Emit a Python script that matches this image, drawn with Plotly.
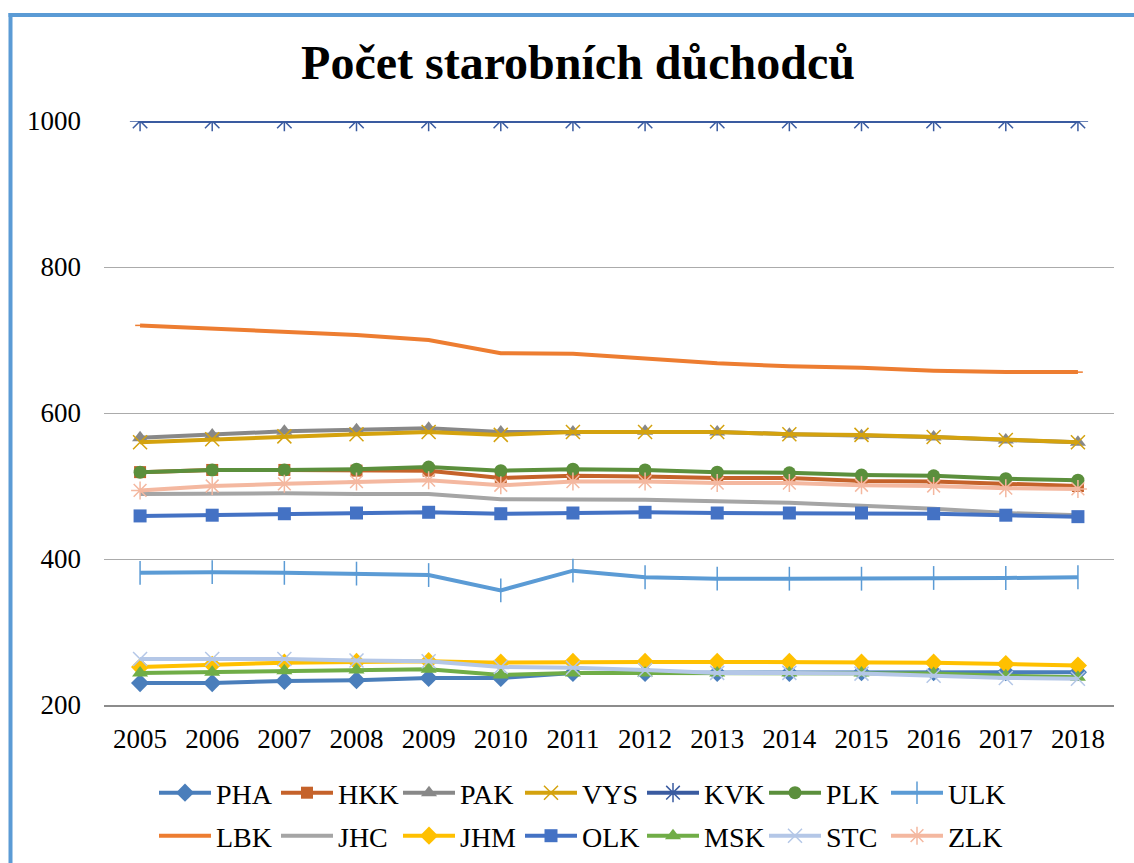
import plotly.graph_objects as go

years = [str(y) for y in range(2005, 2019)]

PHA = [230, 230, 233, 234, 237, 237, 244, 244, 244, 244, 245, 245, 245, 245]
HKK = [519, 522, 522, 521, 521, 511, 514, 513, 511, 511, 507, 506, 503, 500]
PAK = [566, 570, 575, 577, 579, 574, 574, 575, 574, 571, 569, 567, 563, 560]
VYS = [560, 564, 568, 571, 574, 570, 574, 574, 574, 571, 570, 567, 563, 560]
KVK = [1000] * 14
PLK = [519, 522, 522, 523, 526, 521, 523, 522, 519, 518, 515, 514, 510, 508]
ULK = [381, 382, 381, 380, 378, 357, 384, 375, 373, 373, 373, 374, 374, 375]
LBK = [720, 716, 712, 707, 700, 682, 681, 675, 668, 664, 662, 658, 656, 656]
JHC = [489, 490, 490, 489, 489, 482, 482, 481, 479, 477, 473, 469, 463, 460]
JHM = [252, 255, 258, 259, 260, 258, 259, 259, 259, 259, 258, 258, 256, 254]
OLK = [459, 460, 462, 463, 464, 462, 463, 464, 463, 463, 463, 462, 460, 458]
MSK = [244, 245, 247, 248, 249, 241, 244, 244, 244, 244, 244, 243, 240, 238]
STC = [263, 263, 263, 261, 260, 252, 251, 248, 244, 244, 243, 240, 237, 236]
ZLK = [494, 500, 503, 506, 508, 501, 506, 506, 504, 504, 501, 500, 497, 496]

series = [
    ("PHA", PHA, "#4A7EBB", "diamond", 14, "legend"),
    ("HKK", HKK, "#C5622A", "square", 12, "legend"),
    ("PAK", PAK, "#888888", "triangle-up", 14, "legend"),
    ("VYS", VYS, "#D4A20E", "x-thin", 14, "legend"),
    ("KVK", KVK, "#3A5BA0", "asterisk", 17, "legend"),
    ("PLK", PLK, "#5B8F3C", "circle", 13, "legend"),
    ("ULK", ULK, "#5B9BD5", "line-ns", 17, "legend"),
    ("LBK", LBK, "#ED7D31", "line-ew", 7, "legend2"),
    ("JHC", JHC, "#A5A5A5", None, 0, "legend2"),
    ("JHM", JHM, "#FFC000", "diamond", 14, "legend2"),
    ("OLK", OLK, "#4472C4", "square", 13, "legend2"),
    ("MSK", MSK, "#70AD47", "triangle-up", 14, "legend2"),
    ("STC", STC, "#B4C7E7", "x-thin", 14, "legend2"),
    ("ZLK", ZLK, "#F4B8A0", "asterisk", 15, "legend2"),
]

fig = go.Figure()
for name, vals, col, sym, size, lg in series:
    if sym is None:
        fig.add_trace(go.Scatter(x=years, y=vals, name=name, mode="lines",
                                 line=dict(color=col, width=4), legend=lg))
    else:
        thin = sym in ("x-thin", "asterisk", "line-ns", "line-ew")
        fig.add_trace(go.Scatter(
            x=years, y=vals, name=name, mode="lines+markers",
            line=dict(color=col, width=4),
            marker=dict(symbol=sym, size=size, color=col,
                        line=dict(color=col, width=1.5 if thin else 0)),
            legend=lg))

FONT = "Liberation Serif, Times New Roman, serif"
L, R, T, B = 104, 20, 121, 158
W, H = 1134, 863
pw, ph = W - L - R, H - T - B


def px_x(p):
    return (p - L) / pw


def px_y(q):
    return (H - B - q) / ph


legend_common = dict(orientation="h", xanchor="left", yanchor="middle",
                     font=dict(family=FONT, size=28, color="black"),
                     entrywidth=55, entrywidthmode="pixels", itemwidth=52,
                     bgcolor="rgba(0,0,0,0)")

fig.update_layout(
    width=W, height=H,
    margin=dict(l=L, r=R, t=T, b=B, autoexpand=False),
    paper_bgcolor="white", plot_bgcolor="white",
    font=dict(family=FONT, size=27, color="black"),
    title=dict(text="<b>Počet starobních důchodců</b>", x=578 / W, xanchor="center",
               y=1 - 62 / H, yanchor="middle",
               font=dict(family=FONT, size=48, color="black")),
    xaxis=dict(type="category", range=[-0.5, 13.5], showgrid=False,
               showline=True, linecolor="#8C8C8C", linewidth=1.5,
               ticks="", tickfont=dict(size=27), ticklabelstandoff=9),
    yaxis=dict(range=[200, 1000], tickvals=[200, 400, 600, 800, 1000],
               showgrid=True, gridcolor="#ABABAB", gridwidth=1,
               zeroline=False, showline=False, ticks="",
               tickfont=dict(size=27), ticklabelstandoff=22),
    legend=dict(x=px_x(154), y=px_y(793), **legend_common),
    legend2=dict(x=px_x(154), y=px_y(836), **legend_common),
    shapes=[
        dict(type="line", xref="paper", yref="paper", x0=px_x(10.5), x1=px_x(10.5),
             y0=px_y(13), y1=px_y(H + 5), line=dict(color="#5B9BD5", width=4)),
        dict(type="line", xref="paper", yref="paper", x0=px_x(8.5), x1=px_x(W + 5),
             y0=px_y(15), y1=px_y(15), line=dict(color="#5B9BD5", width=4)),
    ],
)

fig.write_html("out.html", config={"displayModeBar": False},
               post_script="document.body.style.margin='0';")
